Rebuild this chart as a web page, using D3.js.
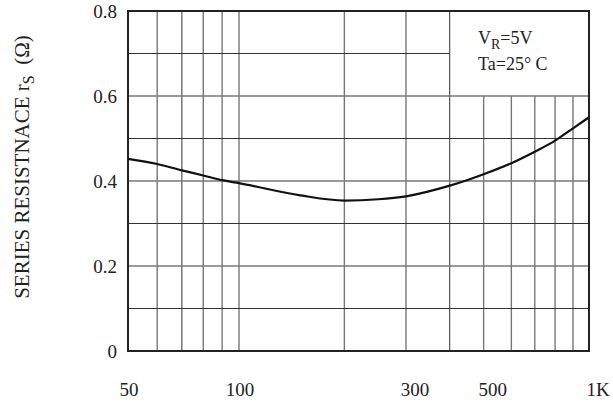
<!DOCTYPE html>
<html>
<head>
<meta charset="utf-8">
<script src="https://cdn.jsdelivr.net/npm/d3@7"></script>
<style>
  body { margin: 0; background: #fff; }
  text { font-family: "Liberation Serif", "DejaVu Serif", serif; fill: #222; }
</style>
</head>
<body>
<svg id="chart" width="613" height="405"></svg>
<script>
// data
const freq = [50, 60, 70, 80, 90, 100, 150, 200, 250, 300, 400, 500, 600, 700, 800, 900, 1000]
const rs = [0.452, 0.440, 0.425, 0.413, 0.402, 0.395, 0.366, 0.354, 0.357, 0.364, 0.389, 0.416, 0.442, 0.469, 0.495, 0.524, 0.550]

const xGrid = [60, 70, 80, 90, 100, 200, 300, 400, 500, 600, 700, 800, 900]
const yGrid = [0.1, 0.2, 0.3, 0.4, 0.5, 0.6, 0.7]
const xTicks = [50, 100, 300, 500, 1000]
const xTickLabels = ["50", "100", "300", "500", "1K"]
const yTicks = [0, 0.2, 0.4, 0.6, 0.8]

const svg = d3.select("#chart")

// log axis, 50..100 section is drawn a bit wider than a true decade
const x = d3.scaleLog()
            .domain([50, 100, 1000])
            .range([128, 239, 589])

const y = d3.scaleLinear()
            .domain([0, 0.8])
            .range([351, 11])

// the legend box cuts the grid in the top right corner
const boxFreq = 400
const boxVal = 0.6

// vertical grid
svg.selectAll(".vgrid")
   .data(xGrid)
   .enter()
   .append("line")
   .attr("class", "vgrid")
   .attr("x1", d => x(d))
   .attr("x2", d => x(d))
   .attr("y1", d => d > boxFreq ? y(boxVal) : y(0.8))
   .attr("y2", y(0))
   .attr("stroke", d => (d == 70 || d == 400) ? "#333" : "#777")
   .attr("stroke-width", d => (d == 70 || d == 400) ? 1 : 1.4)

// horizontal grid
svg.selectAll(".hgrid")
   .data(yGrid)
   .enter()
   .append("line")
   .attr("class", "hgrid")
   .attr("x1", x(50))
   .attr("x2", d => d > boxVal ? x(boxFreq) : x(1000))
   .attr("y1", d => y(d))
   .attr("y2", d => y(d))
   .attr("stroke", d => Math.round(d * 10) % 2 ? "#333" : "#777")
   .attr("stroke-width", d => Math.round(d * 10) % 2 ? 1 : 1.4)

// frame
svg.append("rect")
   .attr("x", x(50))
   .attr("y", y(0.8))
   .attr("width", x(1000) - x(50))
   .attr("height", y(0) - y(0.8))
   .attr("fill", "none")
   .attr("stroke", "#222")
   .attr("stroke-width", 2)

// curve
const line = d3.line()
               .x((d, i) => x(freq[i]))
               .y(d => y(d))
               .curve(d3.curveMonotoneX)

svg.append("path")
   .attr("d", line(rs))
   .attr("fill", "none")
   .attr("stroke", "#111")
   .attr("stroke-width", 2.2)

// tick labels
svg.selectAll(".ylab")
   .data(yTicks)
   .enter()
   .append("text")
   .attr("class", "ylab")
   .attr("x", 117)
   .attr("y", d => y(d))
   .attr("dy", "0.35em")
   .attr("text-anchor", "end")
   .attr("font-size", 19)
   .text(d => d == 0 ? "0" : d.toFixed(1))

svg.selectAll(".xlab")
   .data(xTicks)
   .enter()
   .append("text")
   .attr("class", "xlab")
   .attr("x", d => x(d) + (d >= 300 ? 9 : 1))
   .attr("y", 396)
   .attr("text-anchor", "middle")
   .attr("font-size", 19)
   .text((d, i) => xTickLabels[i])

// axis title
const title = svg.append("text")
                 .attr("transform", "translate(29,167) rotate(-90)")
                 .attr("text-anchor", "middle")
                 .attr("font-size", 21)
title.append("tspan").text("SERIES RESISTNACE r")
title.append("tspan").attr("font-size", 16).attr("dy", 5).text("S")
title.append("tspan").attr("dy", -5).text("\u2002(\u03A9)")

// conditions
const cond = svg.append("g")
                .attr("transform", "translate(478,0)")

const vr = cond.append("text")
               .attr("y", 44)
               .attr("font-size", 18)
vr.append("tspan").text("V")
vr.append("tspan").attr("font-size", 14).attr("dy", 5).text("R")
vr.append("tspan").attr("dy", -5).text("=5V")

cond.append("text")
    .attr("y", 70)
    .attr("font-size", 18)
    .text("Ta=25\u00B0 C")
</script>
</body>
</html>
